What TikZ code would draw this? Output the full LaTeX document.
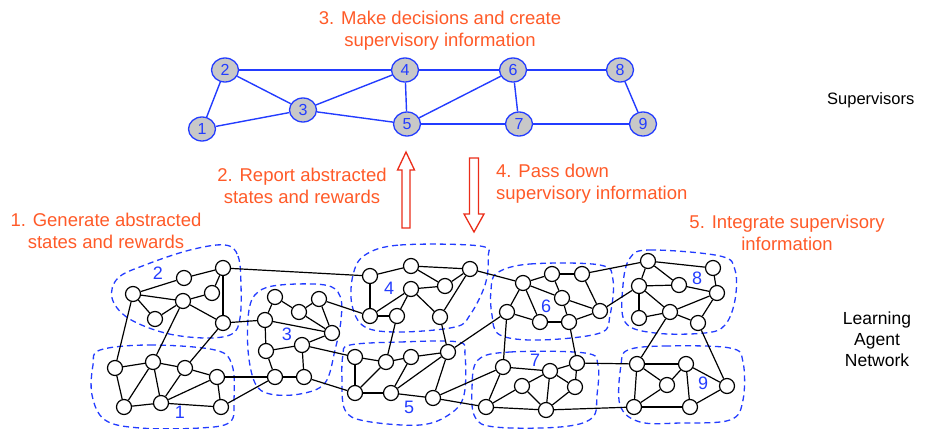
\documentclass[tikz,border=0pt]{standalone}
\usepackage{fontspec}
\setmainfont{Liberation Sans}
\usetikzlibrary{shapes.geometric}
\definecolor{orng}{RGB}{255,90,40}
\definecolor{arrred}{RGB}{235,45,25}
\definecolor{bl}{RGB}{35,60,255}
\definecolor{supfill}{RGB}{200,200,200}
\begin{document}
\begin{tikzpicture}[x=1pt,y=-1pt,
  ag/.style={circle,draw=black,fill=white,line width=1.2pt,minimum size=15pt,inner sep=0pt},
  sup/.style={ellipse,draw=bl,fill=supfill,line width=1.3pt,minimum width=27pt,minimum height=24pt,inner sep=0pt,text=bl,font=\fontsize{16}{16}\selectfont},
  link/.style={draw=black,line width=1.2pt},
  slink/.style={draw=bl,line width=1.4pt},
  blob/.style={draw=bl,line width=1.3pt,dash pattern=on 6pt off 4pt},
  clab/.style={text=bl,font=\fontsize{18}{18}\selectfont,inner sep=0pt},
  otext/.style={text=orng,font=\fontsize{18.5}{22}\selectfont,align=center,inner sep=0pt},
  btext/.style={text=black,font=\fontsize{16.5}{21}\selectfont,align=center,inner sep=0pt},
  barrow/.style={draw=arrred,line width=1.3pt,fill=white}]
\useasboundingbox (0,0) rectangle (928,428);

% ---------- blobs ----------
\draw[blob] plot[smooth cycle,tension=0.6] coordinates {(225,245) (238,256) (241,285) (240,318) (232,334) (205,338) (165,333) (128,318) (112,298) (118,278) (145,265) (190,250)};
\draw[blob] plot[smooth cycle,tension=0.6] coordinates {(100,350) (150,345) (215,350) (232,365) (234,400) (230,422) (200,428) (140,428) (105,420) (92,395) (93,365)};
\draw[blob] plot[smooth cycle,tension=0.6] coordinates {(258,292) (280,285) (325,285) (340,296) (341,320) (335,350) (325,383) (300,394) (270,394) (255,383) (248,350) (249,310)};
\draw[blob] plot[smooth cycle,tension=0.6] coordinates {(365,255) (400,245) (480,246) (488,258) (485,285) (470,315) (455,327) (400,332) (365,327) (352,305) (353,275)};
\draw[blob] plot[smooth cycle,tension=0.6] coordinates {(350,345) (400,342) (458,342) (465,355) (464,395) (450,414) (420,425) (365,421) (345,410) (342,380) (343,355)};
\draw[blob] plot[smooth cycle,tension=0.6] coordinates {(497,273) (530,264) (600,265) (613,280) (610,315) (600,333) (540,340) (500,335) (492,315) (491,290)};
\draw[blob] plot[smooth cycle,tension=0.6] coordinates {(478,360) (510,352) (585,353) (598,365) (597,395) (592,418) (560,427) (495,427) (475,417) (472,388)};
\draw[blob] plot[smooth cycle,tension=0.6] coordinates {(630,258) (650,250) (720,256) (735,270) (735,300) (725,325) (705,333) (655,333) (625,322) (623,285)};
\draw[blob] plot[smooth cycle,tension=0.6] coordinates {(628,350) (665,346) (730,348) (743,362) (743,400) (730,420) (680,423) (640,422) (620,405) (621,365)};

% ---------- supervisors ----------
\node[sup] (s1) at (202,129) {1};
\node[sup] (s2) at (225,70) {2};
\node[sup] (s3) at (303,110) {3};
\node[sup] (s4) at (405,70) {4};
\node[sup] (s5) at (407,124) {5};
\node[sup] (s6) at (513,70) {6};
\node[sup] (s7) at (519,124) {7};
\node[sup] (s8) at (620,70) {8};
\node[sup] (s9) at (643,124) {9};
\foreach \u/\v in {s2/s4,s4/s6,s6/s8,s2/s1,s2/s3,s3/s4,s3/s1,s3/s5,s4/s5,s5/s6,s6/s7,s5/s7,s7/s9,s8/s9}
  \draw[slink] (\u) -- (\v);

% ---------- agents: cluster 2 ----------
\node[ag] (a) at (133,294) {};
\node[ag] (b) at (184,278) {};
\node[ag] (c) at (223,268) {};
\node[ag] (d) at (212,293) {};
\node[ag] (e) at (183,301) {};
\node[ag] (f) at (155,319) {};
\node[ag] (g) at (223,323) {};
% cluster 1
\node[ag] (h) at (115,368) {};
\node[ag] (i) at (153,362) {};
\node[ag] (j) at (185,368) {};
\node[ag] (k) at (217,377) {};
\node[ag] (l) at (124,407) {};
\node[ag] (m) at (161,403) {};
\node[ag] (n) at (221,407) {};
% cluster 3
\node[ag] (o) at (275,297) {};
\node[ag] (p) at (319,299) {};
\node[ag] (q) at (299,312) {};
\node[ag] (r) at (265,320) {};
\node[ag] (s) at (332,333) {};
\node[ag] (t) at (266,351) {};
\node[ag] (u) at (302,345) {};
\node[ag] (v) at (275,377) {};
\node[ag] (w) at (304,377) {};
% cluster 4
\node[ag] (A1) at (370,276) {};
\node[ag] (A2) at (411,266) {};
\node[ag] (A3) at (470,269) {};
\node[ag] (A4) at (445,286) {};
\node[ag] (A5) at (411,289) {};
\node[ag] (A6) at (370,316) {};
\node[ag] (A7) at (397,316) {};
\node[ag] (A8) at (440,317) {};
% cluster 5
\node[ag] (B1) at (355,357) {};
\node[ag] (B2) at (386,362) {};
\node[ag] (B3) at (411,357) {};
\node[ag] (B4) at (448,352) {};
\node[ag] (B5) at (355,393) {};
\node[ag] (B6) at (391,393) {};
\node[ag] (B7) at (433,398) {};
% cluster 6
\node[ag] (C1) at (523,283) {};
\node[ag] (C2) at (552,274) {};
\node[ag] (C3) at (582,274) {};
\node[ag] (C4) at (562,298) {};
\node[ag] (C5) at (507,312) {};
\node[ag] (C6) at (540,322) {};
\node[ag] (C7) at (569,322) {};
\node[ag] (C8) at (600,311) {};
% cluster 7
\node[ag] (D1) at (503,367) {};
\node[ag] (D2) at (550,371) {};
\node[ag] (D3) at (577,363) {};
\node[ag] (D4) at (522,386) {};
\node[ag] (D5) at (575,387) {};
\node[ag] (D6) at (486,407) {};
\node[ag] (D7) at (546,410) {};
% cluster 8
\node[ag] (E1) at (648,261) {};
\node[ag] (E2) at (713,268) {};
\node[ag] (E3) at (639,286) {};
\node[ag] (E4) at (679,285) {};
\node[ag] (E5) at (717,293) {};
\node[ag] (E6) at (639,318) {};
\node[ag] (E7) at (670,312) {};
\node[ag] (E8) at (698,323) {};
% cluster 9
\node[ag] (F1) at (637,364) {};
\node[ag] (F2) at (686,364) {};
\node[ag] (F3) at (667,385) {};
\node[ag] (F4) at (727,386) {};
\node[ag] (F5) at (634,407) {};
\node[ag] (F6) at (690,407) {};

\foreach \u/\v in {a/b,b/c,c/d,c/g,d/e,a/e,a/f,f/e,e/g,
  h/i,i/j,j/k,h/l,l/i,i/m,l/m,m/j,m/k,m/n,k/n,
  r/o,o/q,q/p,r/s,p/s,q/s,r/t,t/u,u/s,t/v,v/w,w/u,
  A1/A2,A2/A3,A2/A4,A4/A3,A5/A4,A1/A6,A6/A7,A6/A5,A5/A7,A5/A8,A3/A8,
  B1/B2,B2/B3,B3/B4,B1/B5,B5/B2,B5/B6,B6/B3,B6/B4,B6/B7,B7/B4,
  C1/C2,C2/C3,C2/C4,C1/C4,C1/C5,C1/C6,C5/C6,C6/C7,C4/C7,C4/C8,C3/C8,C7/C8,
  D1/D2,D2/D3,D3/D5,D2/D5,D2/D7,D2/D4,D4/D7,D4/D6,D1/D6,D6/D7,D5/D7,
  E1/E2,E1/E3,E1/E4,E3/E4,E4/E5,E2/E5,E3/E6,E3/E7,E6/E7,E7/E5,E7/E8,E8/E5,
  F1/F2,F1/F3,F2/F3,F2/F4,F2/F6,F1/F5,F3/F5,F5/F6,F6/F4,
  c/A1,a/h,e/i,g/j,g/r,k/v,n/v,p/A6,u/B1,w/B5,A3/C1,A7/B2,A8/B4,B4/C5,
  B7/D6,B7/D1,C5/D1,C7/D3,C3/E1,C8/E3,D3/F1,D7/F5,E7/F1,E8/F4}
  \draw[link] (\u) -- (\v);

% ---------- cluster labels ----------
\node[clab] (l2) at (158,273) {2};
\node[clab] (l1) at (180,412) {1};
\node[clab] (l3) at (287,334) {3};
\node[clab] (l4) at (389,288) {4};
\node[clab] (l5) at (409,407) {5};
\node[clab] (l6) at (546,306) {6};
\node[clab] (l7) at (535,360) {7};
\node[clab] (l8) at (697,278) {8};
\node[clab] (l9) at (703,383) {9};

% ---------- block arrows ----------
\draw[barrow] (402,228) -- (402,170) -- (397.5,170) -- (406,152) -- (414.5,170) -- (410,170) -- (410,228) -- cycle;
\draw[barrow] (469.5,158) -- (469.5,214) -- (464,214) -- (474,232) -- (484,214) -- (478.5,214) -- (478.5,158) -- cycle;

% ---------- texts ----------
\node[otext] (t3) at (440,31) {3. Make decisions and create\\supervisory information};
\node[otext] (t2) at (302,186) {2. Report abstracted\\states and rewards};
\node[otext,anchor=west,align=left] (t4) at (496,184) {4. Pass down\\supervisory information};
\node[otext] (t1) at (106,231) {1. Generate abstracted\\states and rewards};
\node[otext] (t5) at (787,233) {5. Integrate supervisory\\information};
\node[btext,anchor=west] (tsup) at (827,100) {Supervisors};
\node[btext,font=\fontsize{17.5}{21}\selectfont] (tlan) at (877,339) {Learning\\Agent\\Network};
\end{tikzpicture}
\end{document}
